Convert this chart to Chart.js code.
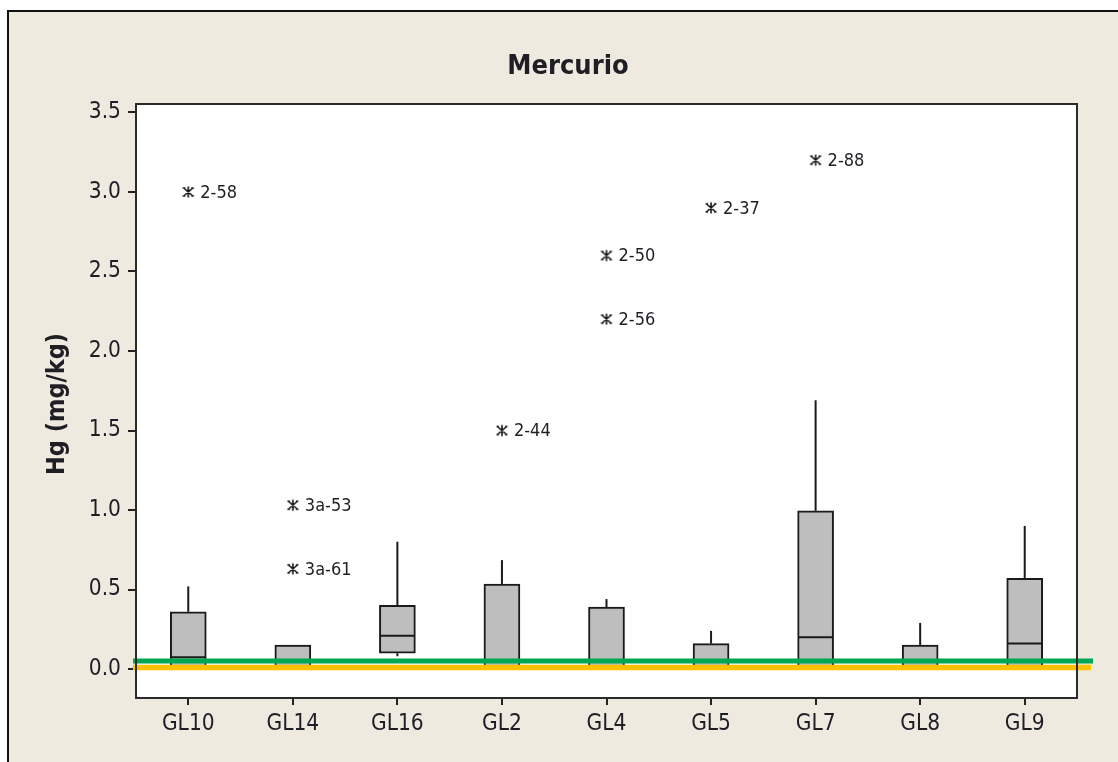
<!DOCTYPE html>
<html>
<head>
<meta charset="utf-8">
<title>Mercurio</title>
<script src="https://cdn.jsdelivr.net/npm/chart.js@4/dist/chart.umd.min.js"></script>
<style>
  html, body { margin: 0; padding: 0; background: #ffffff; }
  #wrap { position: absolute; left: 0; top: 0; width: 1118px; height: 762px; }
</style>
</head>
<body>
<div id="wrap"><canvas id="c" width="1118" height="762"></canvas></div>
<script>
// Mercury (Hg, mg/kg) per sampling site: box-and-whisker summary
const categories   = ['GL10', 'GL14', 'GL16', 'GL2', 'GL4', 'GL5', 'GL7', 'GL8', 'GL9'];
const whiskerLow   = [0.00, 0.00, 0.08, 0.00, 0.00, 0.00, 0.00, 0.00, 0.00];
const q1           = [0.00, 0.00, 0.10, 0.00, 0.00, 0.00, 0.00, 0.00, 0.00];
const median       = [0.075, 0.00, 0.21, 0.00, 0.00, 0.00, 0.20, 0.00, 0.16];
const q3           = [0.36, 0.15, 0.40, 0.535, 0.39, 0.16, 0.995, 0.15, 0.57];
const whiskerHigh  = [0.52, 0.15, 0.80, 0.685, 0.44, 0.24, 1.69, 0.29, 0.90];

// Outliers (sample id next to each asterisk)
const outlierCats   = ['GL10', 'GL14', 'GL14', 'GL2', 'GL4', 'GL4', 'GL5', 'GL7'];
const outlierValues = [3.00, 1.03, 0.63, 1.50, 2.60, 2.20, 2.90, 3.20];
const outlierLabels = ['2-58', '3a-53', '3a-61', '2-44', '2-50', '2-56', '2-37', '2-88'];

// Reference levels drawn across the plot
const limitGreen  = 0.05;
const limitOrange = 0.01;

// Y axis tick values
const yTicks = [0.0, 0.5, 1.0, 1.5, 2.0, 2.5, 3.0, 3.5];

const FONT = '"DejaVu Sans Condensed", "DejaVu Sans", Verdana, sans-serif';
const INK = '#1e1e24';

// Asterisk marker used for outliers
function makeAsterisk() {
  const s = 14, cv = document.createElement('canvas');
  cv.width = s; cv.height = s;
  const g = cv.getContext('2d');
  g.strokeStyle = '#111';
  g.lineWidth = 1.6;
  g.beginPath();
  g.moveTo(7, 1.5); g.lineTo(7, 12.5);
  g.moveTo(2.5, 3); g.lineTo(11.5, 11);
  g.moveTo(11.5, 3); g.lineTo(2.5, 11);
  g.moveTo(1.5, 3); g.lineTo(4, 3);
  g.moveTo(10, 3); g.lineTo(12.5, 3);
  g.moveTo(1.5, 11); g.lineTo(4, 11);
  g.moveTo(10, 11); g.lineTo(12.5, 11);
  g.stroke();
  return cv;
}

const framePlugin = {
  id: 'frame',
  beforeDraw(chart) {
    const { ctx, chartArea: a, width, height } = chart;
    ctx.save();
    // outer panel
    ctx.fillStyle = '#EEEAE0';
    ctx.fillRect(8, 11, width - 8, height - 11);
    ctx.fillStyle = '#111';
    ctx.fillRect(7, 10, width - 7, 2);
    ctx.fillRect(7, 10, 2, height - 10);
    // plot background
    ctx.fillStyle = '#ffffff';
    ctx.fillRect(a.left, a.top, a.right - a.left, a.bottom - a.top);
    // title
    ctx.fillStyle = INK;
    ctx.font = 'bold 27px ' + FONT;
    ctx.textAlign = 'center';
    ctx.textBaseline = 'alphabetic';
    ctx.fillText('Mercurio', 568, 74);
    // y axis title
    ctx.translate(57, (a.top + a.bottom) / 2 + 3);
    ctx.rotate(-Math.PI / 2);
    ctx.font = 'bold 25px ' + FONT;
    ctx.textBaseline = 'middle';
    ctx.fillText('Hg (mg/kg)', 0, 0);
    ctx.restore();
  },
  afterDatasetsDraw(chart) {
    const { ctx, chartArea: a } = chart;
    const xs = chart.scales.x, ys = chart.scales.y;
    ctx.save();
    ctx.strokeStyle = '#1a1a1a';
    ctx.lineWidth = 2;
    categories.forEach((c, i) => {
      const x = xs.getPixelForValue(i);
      const half = 17.5;
      // whiskers
      ctx.beginPath();
      if (whiskerHigh[i] > q3[i]) {
        ctx.moveTo(x, ys.getPixelForValue(q3[i]));
        ctx.lineTo(x, ys.getPixelForValue(whiskerHigh[i]));
      }
      if (whiskerLow[i] < q1[i]) {
        ctx.moveTo(x, ys.getPixelForValue(q1[i]));
        ctx.lineTo(x, ys.getPixelForValue(whiskerLow[i]));
      }
      ctx.stroke();
      // median
      const my = ys.getPixelForValue(median[i]);
      ctx.beginPath();
      ctx.moveTo(x - half, my);
      ctx.lineTo(x + half, my);
      ctx.stroke();
    });
    // reference levels
    ctx.lineWidth = 5.5;
    ctx.strokeStyle = '#FFC000';
    let y = ys.getPixelForValue(limitOrange);
    ctx.beginPath(); ctx.moveTo(a.left - 3, y); ctx.lineTo(a.right + 14, y); ctx.stroke();
    ctx.lineWidth = 5;
    ctx.strokeStyle = '#00A651';
    y = ys.getPixelForValue(limitGreen);
    ctx.beginPath(); ctx.moveTo(a.left - 3, y); ctx.lineTo(a.right + 16, y); ctx.stroke();

    // outlier ids
    const meta = chart.getDatasetMeta(1);
    ctx.fillStyle = INK;
    ctx.font = '18px ' + FONT;
    ctx.textAlign = 'left';
    ctx.textBaseline = 'middle';
    meta.data.forEach((pt, i) => {
      ctx.fillText(outlierLabels[i], pt.x + 12, pt.y + 1);
    });

    // plot border
    ctx.strokeStyle = '#2a2a2a';
    ctx.lineWidth = 2;
    ctx.strokeRect(a.left, a.top, a.right - a.left, a.bottom - a.top);
    ctx.restore();
  }
};

new Chart(document.getElementById('c'), {
  data: {
    labels: categories,
    datasets: [
      {
        type: 'bar',
        data: categories.map((c, i) => [q1[i], q3[i]]),
        backgroundColor: '#BEBEBE',
        borderColor: '#1a1a1a',
        borderWidth: 2,
        borderSkipped: false,
        barThickness: 36,
        order: 2
      },
      {
        type: 'line',
        data: outlierCats.map((c, i) => ({ x: c, y: outlierValues[i] })),
        showLine: false,
        pointStyle: makeAsterisk(),
        pointRadius: 7,
        order: 1
      }
    ]
  },
  options: {
    responsive: false,
    animation: false,
    events: [],
    layout: { padding: { left: 0, top: 104, right: 41, bottom: 0 } },
    plugins: { legend: { display: false }, tooltip: { enabled: false }, title: { display: false } },
    scales: {
      x: {
        type: 'category',
        offset: true,
        grid: { display: true, drawOnChartArea: false, drawTicks: true, tickLength: 7, color: '#222', lineWidth: 2, offset: false },
        border: { display: false },
        ticks: { color: INK, font: { family: FONT, size: 22.5 }, padding: 6, maxRotation: 0 },
        afterFit(s) { s.height = 64; }
      },
      y: {
        type: 'linear',
        min: -0.182,
        max: 3.553,
        grid: { display: true, drawOnChartArea: false, drawTicks: true, tickLength: 8, color: '#222', lineWidth: 2 },
        border: { display: false },
        ticks: {
          color: INK,
          font: { family: FONT, size: 22.5 },
          padding: 7,
          callback: v => Number(v).toFixed(1)
        },
        afterBuildTicks(s) { s.ticks = yTicks.map(v => ({ value: v })); },
        afterFit(s) { s.width = 136; }
      }
    }
  },
  plugins: [framePlugin]
});
</script>
</body>
</html>
